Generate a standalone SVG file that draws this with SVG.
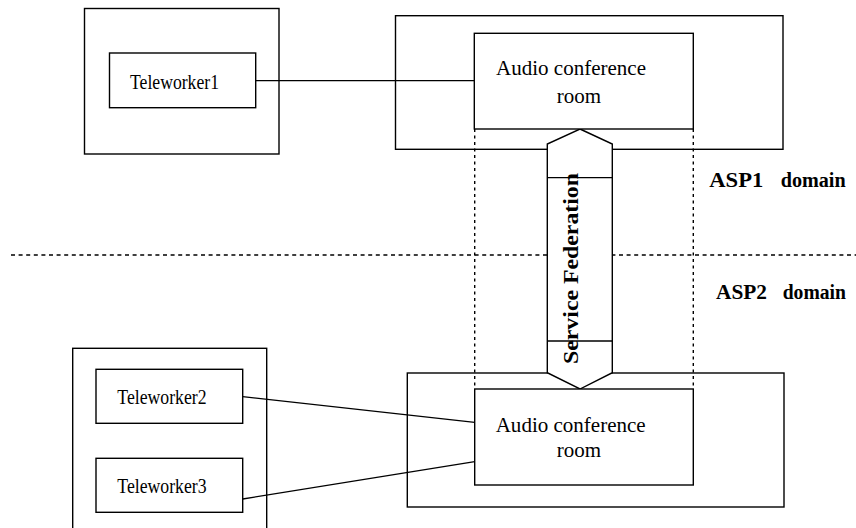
<svg xmlns="http://www.w3.org/2000/svg" width="856" height="528" viewBox="0 0 856 528">
  <style>
    .box { fill: #fff; stroke: #000; stroke-width: 1.4; }
    .frame { fill: none; stroke: #000; stroke-width: 1.4; }
    .link { fill: none; stroke: #000; stroke-width: 1.3; }
    .guide { fill: none; stroke: #000; stroke-width: 1.4; stroke-dasharray: 3 3.5; }
    .border { fill: none; stroke: #000; stroke-width: 1.4; stroke-dasharray: 4 3.6; }
    .label { font-family: "Liberation Serif", "Times New Roman", serif; fill: #000; }
    .small { font-size: 20px; }
    .room { font-size: 21px; }
    .bold { font-size: 20px; font-weight: bold; }
  </style>
  <rect width="856" height="528" fill="#fff"/>

  <!-- domain boundary -->
  <line class="border" x1="11" y1="255" x2="856" y2="255"/>

  <!-- site / domain frames -->
  <g id="site1">
    <rect class="frame" x="84.5" y="8.5" width="194.5" height="145.5"/>
  </g>
  <g id="asp1-frame">
    <rect class="frame" x="395.5" y="15.7" width="387.5" height="133.6"/>
  </g>
  <g id="site2">
    <rect class="frame" x="72.7" y="348.3" width="194" height="190"/>
  </g>
  <g id="asp2-frame">
    <rect class="frame" x="407.3" y="373" width="376.7" height="134"/>
  </g>

  <!-- connectors -->
  <g id="connectors">
    <line class="link" x1="255.7" y1="80.7" x2="474.3" y2="80.7"/>
    <line class="link" x1="242.7" y1="396.7" x2="474.7" y2="422.3"/>
    <line class="link" x1="242.7" y1="499" x2="474.7" y2="461.7"/>
    <line class="guide" x1="474.7" y1="129" x2="474.7" y2="389"/>
    <line class="guide" x1="693.3" y1="129" x2="693.3" y2="389"/>
  </g>

  <!-- federation double arrow -->
  <g id="federation">
    <polygon class="box" points="580,129 612.3,144 612.3,372.7 580,389 547.3,372.7 547.3,144"/>
    <line class="link" x1="547.3" y1="177.7" x2="612.3" y2="177.7" stroke-width="1"/>
    <line class="link" x1="547.3" y1="341" x2="612.3" y2="341" stroke-width="1"/>
    <text class="label bold" transform="translate(577.5,268.5) rotate(-90)" text-anchor="middle" textLength="191" lengthAdjust="spacingAndGlyphs">Service Federation</text>
  </g>

  <g id="teleworker1">
    <rect class="box" x="109.5" y="53" width="146.2" height="54.7"/>
    <text class="label small" x="130" y="89" textLength="89" lengthAdjust="spacingAndGlyphs">Teleworker1</text>
  </g>

  <g id="room1">
    <rect class="box" x="474.3" y="33.3" width="219" height="95.7"/>
    <text class="label room" x="496" y="75" textLength="150" lengthAdjust="spacingAndGlyphs">Audio conference</text>
    <text class="label room" x="556.7" y="102.7" textLength="44.3" lengthAdjust="spacingAndGlyphs">room</text>
  </g>

  <g id="teleworker2">
    <rect class="box" x="96" y="369.3" width="146.7" height="54"/>
    <text class="label small" x="117.3" y="404.3" textLength="89.3" lengthAdjust="spacingAndGlyphs">Teleworker2</text>
  </g>

  <g id="teleworker3">
    <rect class="box" x="96" y="458.3" width="146.7" height="54"/>
    <text class="label small" x="117.3" y="492.7" textLength="89.3" lengthAdjust="spacingAndGlyphs">Teleworker3</text>
  </g>

  <g id="room2">
    <rect class="box" x="474.7" y="389" width="218.6" height="96"/>
    <text class="label room" x="495.7" y="431.7" textLength="150" lengthAdjust="spacingAndGlyphs">Audio conference</text>
    <text class="label room" x="556.7" y="456.7" textLength="44.3" lengthAdjust="spacingAndGlyphs">room</text>
  </g>

  <!-- domain labels -->
  <g id="asp1-label">
    <text class="label bold" x="709.3" y="186.7" textLength="54" lengthAdjust="spacingAndGlyphs">ASP1</text>
    <text class="label bold" x="780.7" y="186.7" textLength="65" lengthAdjust="spacingAndGlyphs">domain</text>
  </g>
  <g id="asp2-label">
    <text class="label bold" x="716" y="299.3" textLength="51" lengthAdjust="spacingAndGlyphs">ASP2</text>
    <text class="label bold" x="782.7" y="299.3" textLength="63.3" lengthAdjust="spacingAndGlyphs">domain</text>
  </g>
</svg>
